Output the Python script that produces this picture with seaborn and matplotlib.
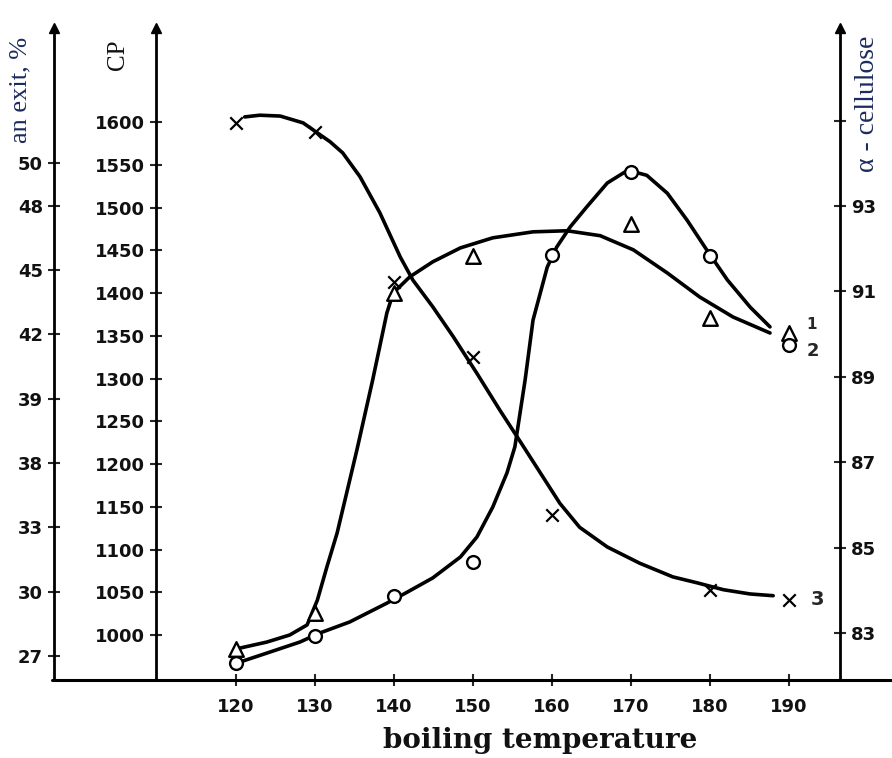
import matplotlib
matplotlib.use("Agg")
import matplotlib.pyplot as plt
from matplotlib.lines import Line2D
import seaborn as sns
import pandas as pd

# ---------------- data ----------------
temps = [120, 130, 140, 150, 160, 170, 180, 190]

# curve 3 (x markers) -> CP axis
cp_T = [120, 130, 140, 150, 160, 180, 190]
cp_vals = [1599, 1588, 1413, 1325, 1140, 1053, 1041]
cp_line_T = [121.1, 123.0, 125.6, 128.5, 131.9, 133.5, 135.7, 138.2, 140.8, 142.4,
             144.9, 147.5, 150.5, 153.4, 156.0, 158.5, 161.0, 163.5, 167.0, 171.1,
             175.3, 178.4, 181.7, 185.1, 188.0]
cp_line = [1606, 1608, 1607, 1599, 1577, 1564, 1536, 1494, 1442, 1415,
           1384, 1349, 1306, 1263, 1226, 1190, 1154, 1126, 1103, 1084,
           1068, 1061, 1053, 1048, 1046]

# curve 1 (triangles) -> an exit, %
exit_T = [120, 130, 140, 150, 170, 180, 190]
exit_vals = [27.33, 29.01, 43.94, 45.67, 47.16, 42.77, 42.07]
exit_line_T = [120.5, 123.9, 126.8, 129.0, 130.3, 131.5, 132.8, 134.1, 135.3, 137.3,
               139.1, 139.9, 142.0, 144.9, 148.4, 152.5, 157.6, 161.9, 166.1, 170.3,
               174.6, 178.7, 182.9, 187.6]
exit_line = [27.37, 27.65, 27.98, 28.45, 29.61, 31.15, 32.74, 34.75, 36.61, 39.88,
             43.01, 43.94, 44.69, 45.39, 46.04, 46.51, 46.79, 46.84, 46.61, 45.95,
             44.87, 43.75, 42.82, 42.07]

# curve 2 (circles) -> alpha-cellulose
cell_T = [120, 130, 140, 150, 160, 170, 180, 190]
cell_vals = [82.30, 82.93, 83.87, 84.66, 91.85, 93.80, 91.83, 89.74]
cell_line_T = [120.8, 123.9, 128.1, 130.6, 134.4, 139.1, 141.7, 144.9, 148.4, 150.5,
               152.5, 154.3, 155.3, 156.6, 157.6, 159.4, 160.6, 162.3, 164.4, 167.0,
               169.6, 172.0, 174.6, 177.1, 179.6, 182.2, 185.1, 187.6]
cell_line = [82.34, 82.53, 82.79, 83.00, 83.26, 83.70, 83.96, 84.29, 84.78, 85.25,
             85.95, 86.75, 87.36, 88.93, 90.33, 91.57, 92.04, 92.51, 92.98, 93.54,
             93.84, 93.72, 93.30, 92.67, 91.97, 91.27, 90.63, 90.17]

cp_ticks = [1000, 1050, 1100, 1150, 1200, 1250, 1300, 1350, 1400, 1450, 1500, 1550, 1600]
exit_ticks = [27, 30, 33, 36, 39, 42, 45, 48, 50]
exit_ticklabels = ["27", "30", "33", "38", "39", "42", "45", "48", "50"]
cell_ticks = [83, 85, 87, 89, 91, 93, 95]
cell_ticklabels = ["83", "85", "87", "89", "91", "93", ""]

# ---------------- figure ----------------
sns.set_style("white")
plt.rcParams["font.family"] = ["DejaVu Sans"]

W, H = 892, 758
fig = plt.figure(figsize=(W / 100, H / 100), dpi=100)
ax = fig.add_axes([156 / W, 1 - 680 / H, (840 - 156) / W, (680 - 28) / H])
ax_l = ax.twinx()
ax_r = ax.twinx()

ax.set_xlim(109.87, 196.46)
ax.set_ylim(947.4, 1710.0)
ax_l.set_ylim(25.88, 56.30)
ax_r.set_ylim(81.90, 97.17)

LW = 2.6
# lines
sns.lineplot(x=cp_line_T, y=cp_line, ax=ax, color="black", lw=LW, estimator=None)
sns.lineplot(x=exit_line_T, y=exit_line, ax=ax_l, color="black", lw=LW, estimator=None)
sns.lineplot(x=cell_line_T, y=cell_line, ax=ax_r, color="black", lw=LW, estimator=None)

# markers
sns.scatterplot(x=cp_T, y=cp_vals, ax=ax, marker="x", s=80, color="black",
                linewidth=1.6, zorder=5)
sns.scatterplot(x=exit_T, y=exit_vals, ax=ax_l, marker="^", s=110,
                facecolor="white", edgecolor="black", linewidth=1.7, zorder=5)
sns.scatterplot(x=cell_T, y=cell_vals, ax=ax_r, marker="o", s=85,
                facecolor="white", edgecolor="black", linewidth=1.7, zorder=5)

# curve labels
ax_l.text(192.2, 42.45, "1", fontsize=11, fontweight="bold", ha="left", va="center")
ax_r.text(192.2, 89.60, "2", fontsize=13, fontweight="bold", ha="left", va="center")
ax.text(192.8, 1041, "3", fontsize=14, fontweight="bold", ha="left", va="center")

# spines
for a in (ax, ax_l, ax_r):
    for s in a.spines.values():
        s.set_visible(False)
        s.set_color("black")
        s.set_linewidth(2)
ax.spines["left"].set_visible(True)
ax_l.spines["left"].set_visible(True)
ax_l.spines["left"].set_position(("outward", 102 * 72 / 100))
ax_r.spines["right"].set_visible(True)
ax_l.yaxis.tick_left()
ax_l.yaxis.set_label_position("left")

tick_font = dict(fontsize=13, fontweight="bold", color="#111111")

ax.set_xticks(temps)
ax.set_xticklabels([str(t) for t in temps], **tick_font)
ax.tick_params(axis="x", direction="inout", length=8, width=1.5, pad=9, bottom=True)

ax.set_yticks(cp_ticks)
ax.set_yticklabels([str(v) for v in cp_ticks], **tick_font)
ax.tick_params(axis="y", direction="inout", length=8, width=1.5, pad=4, left=True)

ax_l.set_yticks(exit_ticks)
ax_l.set_yticklabels(exit_ticklabels, **tick_font)
ax_l.tick_params(axis="y", direction="inout", length=8, width=1.5, pad=4, left=True)

ax_r.set_yticks(cell_ticks)
ax_r.set_yticklabels(cell_ticklabels, **tick_font)
ax_r.tick_params(axis="y", direction="inout", length=8, width=1.5, pad=4, right=True)

ax.set_xlabel("")
ax.set_ylabel("")
ax_l.set_ylabel("")
ax_r.set_ylabel("")

# bottom axis line spanning whole width
fig.add_artist(Line2D([52 / W, 1.0], [1 - 680 / H] * 2, transform=fig.transFigure,
                      color="black", lw=2.2))
# arrow heads at top of vertical axes
for xa in (0.0, -102 / (840 - 156), 1.0):
    ax.plot([xa], [1.0], marker="^", ms=7, color="black", transform=ax.transAxes,
            clip_on=False)

# axis titles
fig.text(540 / W, 1 - 740 / H, "boiling temperature", ha="center", va="center",
         family="DejaVu Serif", fontweight="bold", fontsize=20, color="#111111")
fig.text(20 / W, 1 - 90 / H, "an exit, %", rotation=90, ha="center", va="center",
         family="Liberation Serif", fontsize=19, color="#1c2b5e")
fig.text(118 / W, 1 - 55 / H, "CP", rotation=90, ha="center", va="center",
         family="Liberation Serif", fontsize=18, color="#111111")
fig.text(868 / W, 1 - 104 / H, "α - cellulose", rotation=90, ha="center", va="center",
         family="Liberation Serif", fontsize=20, color="#1c2b5e")

fig.savefig("out.png", dpi=100)
